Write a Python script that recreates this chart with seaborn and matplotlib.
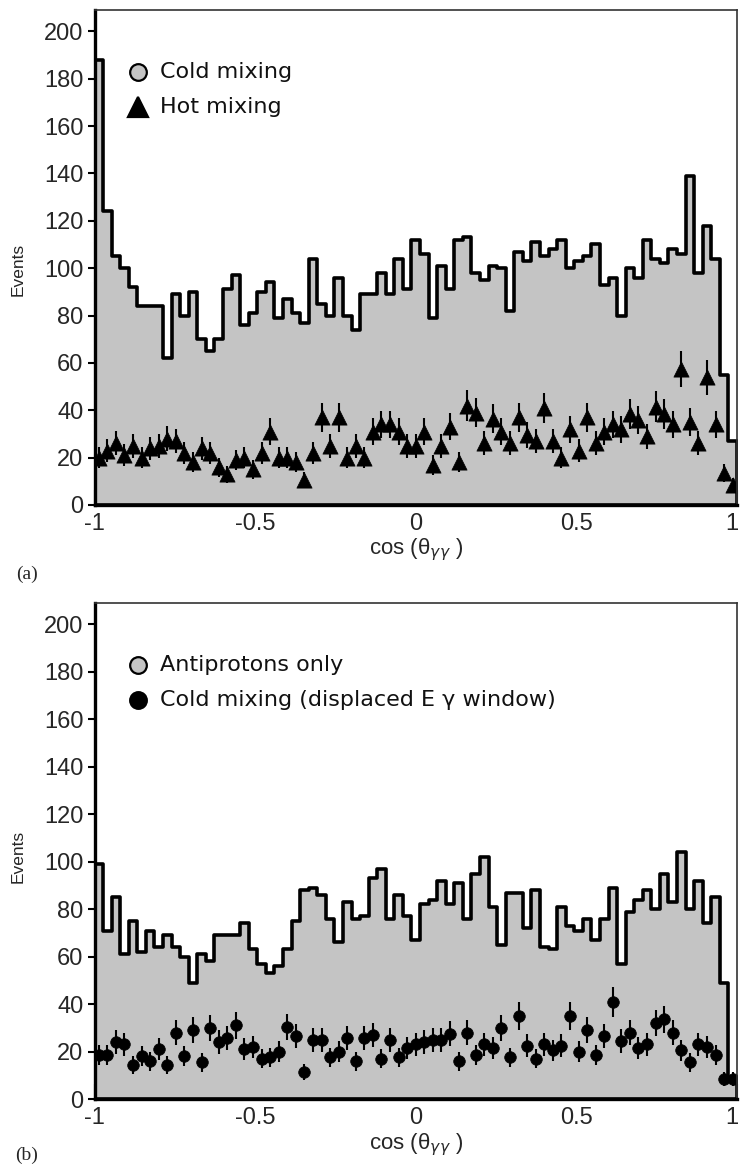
import numpy as np
import pandas as pd
import matplotlib
matplotlib.use("Agg")
import matplotlib.pyplot as plt
import matplotlib.transforms as mtransforms
import seaborn as sns

# ---------------- data ----------------
N_BINS = 75
X_MIN, X_MAX = -1.0, 1.0

# (a) histogram: cold mixing
cold_a = [188, 124, 105, 100, 92, 84, 84, 84, 62, 89,
          80, 90, 70, 65, 70, 91, 97, 76, 81, 90,
          94, 79, 87, 81, 77, 104, 85, 80, 96, 80,
          74, 89, 89, 98, 89, 104, 91, 112, 106, 79,
          101, 91, 112, 113, 98, 95, 101, 100, 82, 107,
          103, 111, 105, 108, 112, 100, 103, 105, 110, 93,
          96, 80, 100, 96, 112, 104, 102, 108, 106, 139,
          98, 118, 104, 55, 27]
# (a) points: hot mixing
hot_a = [20, 23, 26, 21, 25, 20, 24, 25, 28, 27,
         22, 18, 24, 22, 16, 13, 19, 20, 15, 22,
         31, 20, 20, 18, 10.5, 22, 37, 25, 37, 20,
         25, 20, 31, 34, 34, 31, 25, 25, 31, 17,
         25, 33, 18, 42, 39, 26, 36.5, 31, 26, 37,
         29.5, 27, 41, 27, 20, 32, 23, 37, 26, 31,
         34, 32, 38.5, 36, 29, 41.5, 38.5, 34, 57.5, 35,
         26, 54, 34, 13.5, 8.5]

# (b) histogram: antiprotons only
pbar_b = [99, 71, 85, 61, 75, 62, 71, 64, 69, 64,
          60, 49, 61, 58, 69, 69, 69, 74, 63, 57,
          53, 56, 63, 75, 88, 89, 86, 76, 66, 83,
          76, 77, 93, 97, 76, 86, 77, 67, 82, 84,
          92, 82, 91, 76, 95, 102, 81, 65, 87, 87,
          72, 88, 64, 63, 81, 73, 71, 76, 67, 76,
          89, 57, 79, 84, 88, 80, 95, 83, 104, 80,
          92, 74, 85, 49, 9]
# (b) points: cold mixing, displaced E-gamma window
cold_b = [18.5, 18.5, 24, 23, 14.5, 18, 16, 21, 14.5, 28,
          18, 29, 15.5, 30, 24, 25.5, 31, 21, 22, 17,
          17.5, 20, 30.5, 26.5, 11.5, 25, 25, 17.5, 20, 25.5,
          16, 25.5, 27, 17, 25, 17.5, 21.5, 23, 24, 25,
          25, 27.5, 16, 28, 18.5, 23, 21.5, 30, 17.5, 35,
          22.5, 17, 23, 20.5, 22.5, 35, 20, 29, 18.5, 26.5,
          41, 24.5, 28, 21.5, 23, 32, 33.5, 28, 20.5, 15.5,
          23, 22, 18.5, 8.5, 8.5]

x_major = [-1, -0.5, 0, 0.5, 1]
x_major_labels = ["-1", "-0.5", "0", "0.5", "1"]
x_minor = [-0.75, -0.25, 0.25, 0.75]
y_ticks = list(range(0, 201, 20))

legend_a = ["Cold mixing", "Hot mixing"]
legend_b = ["Antiprotons only", "Cold mixing (displaced E \u03b3 window)"]

# ---------------- style ----------------
sns.set_theme(style="ticks")
plt.rcParams["font.family"] = ["DejaVu Sans"]
plt.rcParams["axes.unicode_minus"] = False
plt.rcParams["mathtext.fontset"] = "dejavusans"

GRAY = "#c4c4c4"
W, H = 741, 1169

edges = np.linspace(X_MIN, X_MAX, N_BINS + 1)
centers = 0.5 * (edges[:-1] + edges[1:])

fig = plt.figure(figsize=(W / 100, H / 100), dpi=100)
ax_a = fig.add_axes([94.5 / W, 1 - 505 / H, 642.5 / W, 495 / H])
ax_b = fig.add_axes([94.5 / W, 1 - 1099 / H, 642.5 / W, 496 / H])


def draw_panel(ax, hist_vals, pts, marker, msize, ylab_y, leg_labels, leg_specs):
    df = pd.DataFrame({"cos": centers, "count": np.asarray(hist_vals, float)})
    sns.histplot(data=df, x="cos", weights="count", bins=list(edges),
                 element="step", fill=True, color=GRAY, alpha=1,
                 edgecolor="black", linewidth=2.6, ax=ax, zorder=1)
    pts = np.asarray(pts, dtype=float)
    ax.errorbar(centers, pts, yerr=np.sqrt(pts), fmt="none", ecolor="black",
                elinewidth=1.5, capsize=0, zorder=2)
    sns.scatterplot(x=centers, y=pts, marker=marker, color="black",
                    edgecolor="black", s=msize, linewidth=0.5, ax=ax,
                    zorder=3, legend=False)

    ax.set_xlim(X_MIN, X_MAX)
    ax.set_ylim(0, 209)
    ax.set_xticks(x_major)
    ax.set_xticklabels(x_major_labels)
    ax.set_xticks(x_minor, minor=True)
    ax.set_yticks(y_ticks)
    ax.tick_params(axis="x", which="major", direction="in", length=11,
                   width=1.5, labelsize=17, pad=6, color="black")
    ax.tick_params(axis="x", which="minor", direction="in", length=5.5,
                   width=1.5, color="black")
    ax.tick_params(axis="y", which="major", direction="out", length=5,
                   width=1.5, labelsize=17, pad=3, color="black")
    for lab in ax.get_xticklabels() + ax.get_yticklabels():
        lab.set_family(["Liberation Sans", "DejaVu Sans"])
    # keep the last x label ("1") inside the figure edge
    last = ax.get_xticklabels()[-1]
    last.set_transform(last.get_transform() +
                       mtransforms.ScaledTranslation(-5 / 100, 0, fig.dpi_scale_trans))

    for s in ("left", "bottom"):
        ax.spines[s].set_linewidth(2.4)
        ax.spines[s].set_color("black")
    for s in ("top", "right"):
        ax.spines[s].set_linewidth(1.2)
        ax.spines[s].set_color("#333333")
        ax.spines[s].set_visible(True)
    for sp in ax.spines.values():
        sp.set_zorder(4)

    ax.set_ylabel("Events", fontsize=12.5, family=["Liberation Sans", "DejaVu Sans"])
    ax.yaxis.set_label_coords(-0.107, ylab_y)
    ax.set_xlabel("cos (\u03b8$_{\\gamma\\gamma}$ )", fontsize=16,
                  family=["Liberation Sans", "DejaVu Sans"])
    ax.xaxis.set_label_coords(0.5, -0.064)

    # legend drawn by hand (marker + text)
    for (mk, face, ms, yy), lab in zip(leg_specs, leg_labels):
        ax.plot([0.068], [yy], marker=mk, ms=ms, mfc=face, mec="black",
                mew=1.6, ls="none", transform=ax.transAxes, clip_on=False,
                zorder=5)
        ax.text(0.102, yy, lab, transform=ax.transAxes, va="center",
                ha="left", fontsize=16, color="#111111")


draw_panel(ax_a, cold_a, hot_a, "^", 120, 0.475, legend_a,
           [("o", GRAY, 12, 0.875), ("^", "black", 15, 0.804)])
draw_panel(ax_b, pbar_b, cold_b, "o", 70, 0.49, legend_b,
           [("o", GRAY, 12, 0.875), ("o", "black", 12, 0.804)])

fig.text(27 / W, 1 - 574 / H, "(a)", fontsize=14, ha="center", va="center",
         family=["Liberation Serif", "DejaVu Serif"])
fig.text(27 / W, 1 - 1155 / H, "(b)", fontsize=14, ha="center", va="center",
         family=["Liberation Serif", "DejaVu Serif"])

fig.savefig("out.png", dpi=100, facecolor="white")
